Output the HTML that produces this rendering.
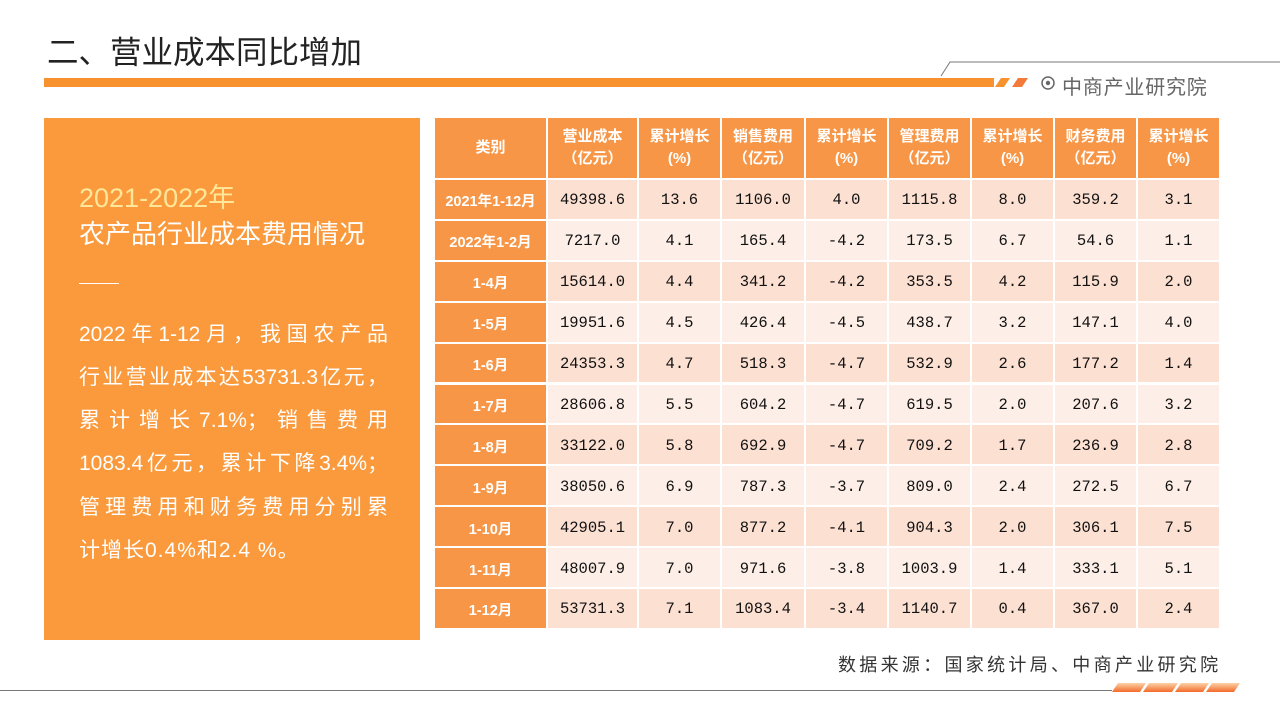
<!DOCTYPE html>
<html><head><meta charset="utf-8"><style>
body{margin:0;width:1280px;height:720px;background:#fff;position:relative;overflow:hidden;font-family:"Liberation Sans","Noto Sans CJK SC",sans-serif;}
.a{position:absolute;}
.c{position:absolute;display:flex;align-items:center;justify-content:center;text-align:center;box-sizing:border-box;}
.h{background:#f79646;color:#fff;font-weight:bold;font-size:15px;line-height:22px;}
.f{background:#f79646;color:#fff;font-weight:bold;font-size:14.5px;padding-top:3px;}
.d{color:#111;font-size:15.5px;font-family:"Liberation Mono","Noto Sans CJK SC",monospace;padding-top:2px;}
.pl{position:absolute;left:35px;width:309px;color:#fff;font-size:21px;height:30px;line-height:30px;text-align:justify;text-align-last:justify;white-space:nowrap;}
</style></head><body>
<div class="a" style="left:47px;top:27px;font-size:31.5px;color:#222;">二、营业成本同比增加</div>
<div class="a" style="left:44px;top:78px;width:950px;height:9px;background:#f7922f;"></div>
<svg class="a" style="left:0;top:0" width="1280" height="100">
<polygon points="995,87 1001,78 1010,78 1004,87" fill="#f7922f"/>
<polygon points="1012,87 1018,78 1028,78 1022,87" fill="#f47a3c"/>
<polyline points="941,76 950,62 1280,62" fill="none" stroke="#777" stroke-width="1"/>
<circle cx="1048" cy="83" r="6" fill="none" stroke="#666" stroke-width="1.5"/><circle cx="1048" cy="83" r="2.2" fill="#666"/>
</svg>
<div class="a" style="left:1062px;top:71px;font-size:20px;letter-spacing:0.8px;color:#666;">中商产业研究院</div>
<div class="a" style="left:44px;top:118px;width:376px;height:522px;background:#fa9a3c;">
<div class="a" style="left:35px;top:58px;font-size:27px;color:#ffe79a;">2021-2022年</div>
<div class="a" style="left:35px;top:96px;font-size:26px;color:#fff;">农产品行业成本费用情况</div>
<div class="a" style="left:35px;top:165px;width:40px;height:1px;background:#fff;"></div>
<div>
<div class="pl" style="top:202px;">2022年1-12月，我国农产品</div>
<div class="pl" style="top:245px;">行业营业成本达53731.3亿元，</div>
<div class="pl" style="top:288px;">累计增长7.1%；销售费用</div>
<div class="pl" style="top:331px;">1083.4亿元，累计下降3.4%；</div>
<div class="pl" style="top:375px;">管理费用和财务费用分别累</div>
<div class="pl" style="top:418px;text-align-last:left;letter-spacing:1px;">计增长0.4%和2.4 %。</div>
</div>
</div>
<div id="tbl"></div>
<div class="a" style="left:838px;top:651px;font-size:18px;letter-spacing:3.3px;color:#333;">数据来源：国家统计局、中商产业研究院</div>
<svg class="a" style="left:0;top:670px" width="1280" height="30">
<defs><linearGradient id="g" x1="0" y1="0" x2="0" y2="1"><stop offset="0" stop-color="#fcd2a8"/><stop offset="1" stop-color="#f36a2a"/></linearGradient></defs>
<line x1="0" y1="20.5" x2="1112" y2="20.5" stroke="#777"/>
<polygon points="1112,22 1118,13 1146,13 1140,22" fill="url(#g)"/>
<polygon points="1143,22 1149,13 1178,13 1172,22" fill="url(#g)"/>
<polygon points="1175,22 1181,13 1209,13 1203,22" fill="url(#g)"/>
<polygon points="1206,22 1212,13 1240,13 1234,22" fill="url(#g)"/>
</svg>
<script>
const headers=["类别","营业成本<br>（亿元）","累计增长<br>(%)","销售费用<br>（亿元）","累计增长<br>(%)","管理费用<br>（亿元）","累计增长<br>(%)","财务费用<br>（亿元）","累计增长<br>(%)"];
const categories=["2021年1-12月","2022年1-2月","1-4月","1-5月","1-6月","1-7月","1-8月","1-9月","1-10月","1-11月","1-12月"];
const opCost=["49398.6","7217.0","15614.0","19951.6","24353.3","28606.8","33122.0","38050.6","42905.1","48007.9","53731.3"];
const opGrowth=["13.6","4.1","4.4","4.5","4.7","5.5","5.8","6.9","7.0","7.0","7.1"];
const salesCost=["1106.0","165.4","341.2","426.4","518.3","604.2","692.9","787.3","877.2","971.6","1083.4"];
const salesGrowth=["4.0","-4.2","-4.2","-4.5","-4.7","-4.7","-4.7","-3.7","-4.1","-3.8","-3.4"];
const mgmtCost=["1115.8","173.5","353.5","438.7","532.9","619.5","709.2","809.0","904.3","1003.9","1140.7"];
const mgmtGrowth=["8.0","6.7","4.2","3.2","2.6","2.0","1.7","2.4","2.0","1.4","0.4"];
const finCost=["359.2","54.6","115.9","147.1","177.2","207.6","236.9","272.5","306.1","333.1","367.0"];
const finGrowth=["3.1","1.1","2.0","4.0","1.4","3.2","2.8","6.7","7.5","5.1","2.4"];
const cols=[435,548,639,722,806,889,972,1055,1138,1221];
const tbl=document.getElementById('tbl');
function cell(x,y,w,h,cls,html,bg){const e=document.createElement('div');e.className='c '+cls;e.style.left=x+'px';e.style.top=y+'px';e.style.width=w+'px';e.style.height=h+'px';if(bg)e.style.background=bg;e.innerHTML=html;tbl.appendChild(e);return e;}
headers.forEach((t,i)=>{const e=cell(cols[i],118,cols[i+1]-cols[i]-2,60,'h',t);

});
const series=[opCost,opGrowth,salesCost,salesGrowth,mgmtCost,mgmtGrowth,finCost,finGrowth];
const rowH=40.9;
categories.forEach((c,r)=>{const y=180+r*rowH;const h=rowH-2;
const e=cell(cols[0],y,cols[1]-cols[0]-2,h,'f',c);


series.forEach((s,j)=>{const d=cell(cols[j+1],y,cols[j+2]-cols[j+1]-2,h,'d',s[r],r%2===0?'#fce0d2':'#fdefe7');

});});
</script>
</body></html>
